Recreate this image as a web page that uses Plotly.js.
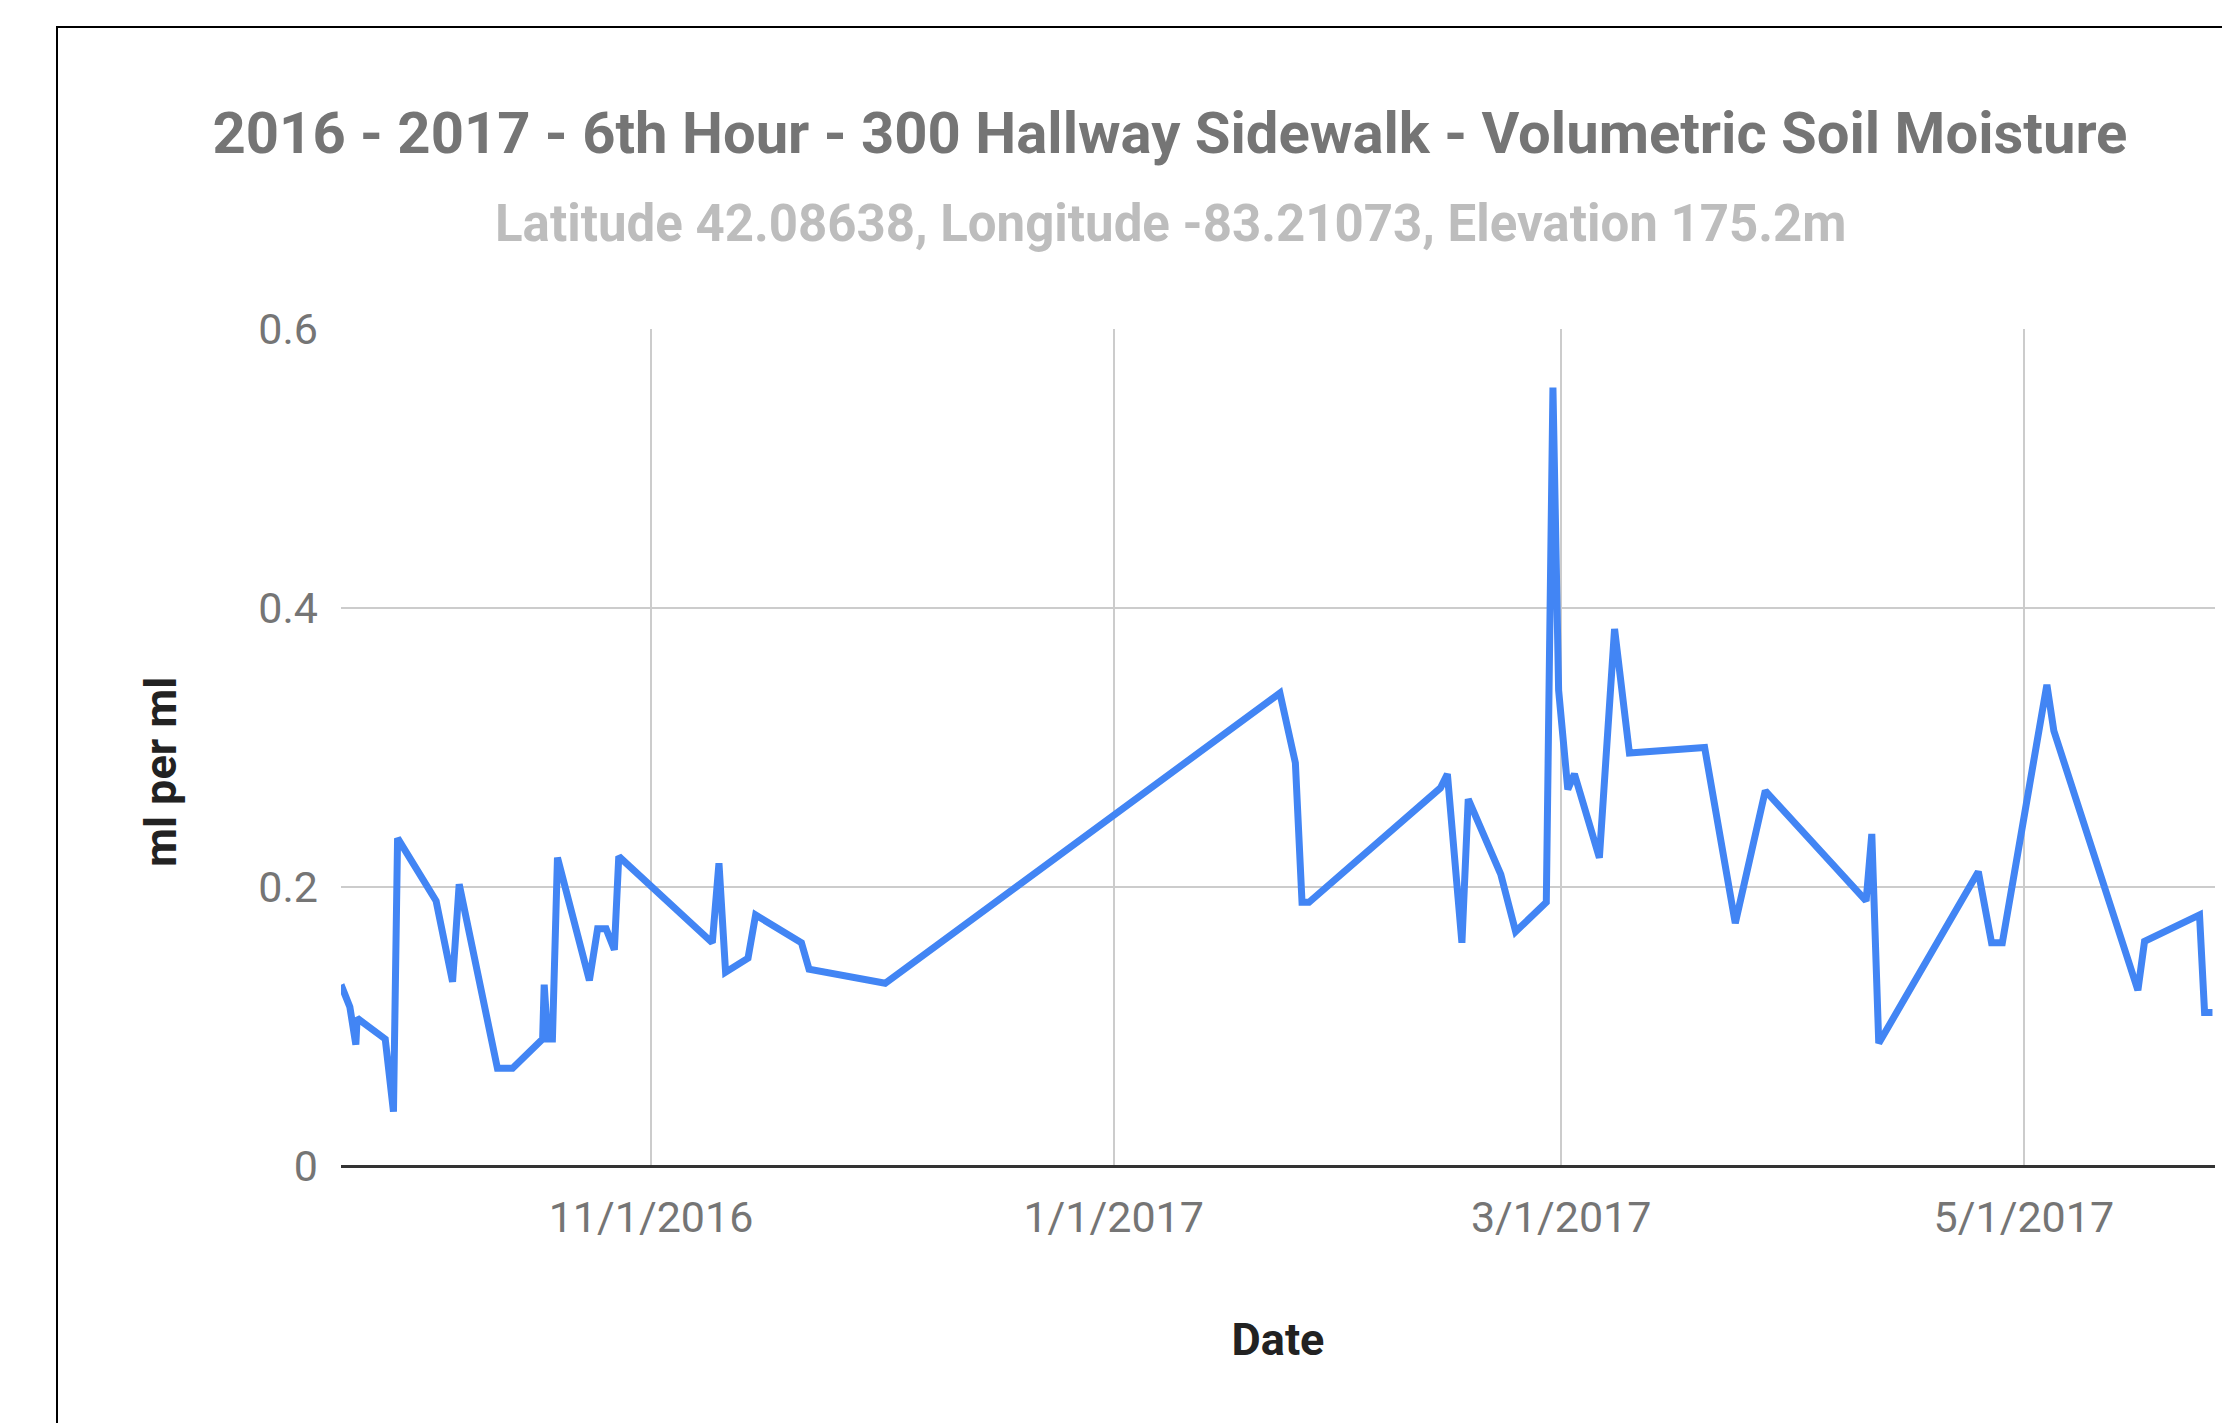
<!DOCTYPE html>
<html>
<head>
<meta charset="utf-8">
<script src="https://cdn.plot.ly/plotly-3.0.1.min.js"></script>
<style>
  html, body { margin: 0; padding: 0; background: #ffffff; }
  #wrap { position: relative; width: 2222px; height: 1423px; overflow: hidden; background: #ffffff; }
  #chart { position: absolute; left: 0; top: 0; width: 2222px; height: 1423px; }
  #frame { position: absolute; left: 56px; top: 26px; width: 2300px; height: 1500px;
           border-left: 2px solid #000; border-top: 2px solid #000; pointer-events: none; }
</style>
</head>
<body>
<div id="wrap">
  <div id="chart"></div>
  <div id="frame"></div>
</div>
<script>
// ---- data ----
const dates = [
  '2016-09-21 03:00', '2016-09-22 07:00', '2016-09-23 02:00', '2016-09-23 06:00',
  '2016-09-26 23:00', '2016-09-28 01:00', '2016-09-28 14:00', '2016-10-03 16:00',
  '2016-10-05 20:00', '2016-10-06 17:00', '2016-10-11 18:00', '2016-10-13 18:00',
  '2016-10-17 17:00', '2016-10-17 22:00', '2016-10-18 09:00', '2016-10-19 00:00',
  '2016-10-19 16:00', '2016-10-23 21:00', '2016-10-24 23:00', '2016-10-26 02:00',
  '2016-10-27 04:00', '2016-10-27 18:00', '2016-11-09 02:00', '2016-11-09 23:00',
  '2016-11-10 20:00', '2016-11-13 19:00', '2016-11-14 19:00', '2016-11-20 20:00',
  '2016-11-21 20:00', '2016-12-01 21:00', '2017-01-22 22:00', '2017-01-24 23:00',
  '2017-01-25 20:00', '2017-01-26 18:00', '2017-02-13 02:00', '2017-02-14 00:00',
  '2017-02-15 22:00', '2017-02-16 18:00', '2017-02-21 01:00', '2017-02-23 00:00',
  '2017-02-27 01:00', '2017-02-27 22:00', '2017-02-28 16:00', '2017-03-01 21:00',
  '2017-03-02 18:00', '2017-03-06 01:00', '2017-03-08 01:00', '2017-03-10 00:00',
  '2017-03-19 22:00', '2017-03-23 23:00', '2017-03-27 22:00', '2017-04-10 05:00',
  '2017-04-10 23:00', '2017-04-11 21:00', '2017-04-25 00:00', '2017-04-26 18:00',
  '2017-04-28 04:00', '2017-05-04 01:00', '2017-05-04 23:00', '2017-05-16 01:00',
  '2017-05-16 22:00', '2017-05-24 04:00', '2017-05-24 20:00', '2017-05-25 21:00'
];
const moisture = [
  0.130, 0.114, 0.087, 0.106,
  0.091, 0.039, 0.235, 0.190,
  0.132, 0.202, 0.070, 0.070,
  0.091, 0.130, 0.091, 0.091,
  0.221, 0.133, 0.170, 0.170,
  0.155, 0.222, 0.160, 0.217,
  0.139, 0.149, 0.180, 0.160,
  0.141, 0.131, 0.339, 0.289,
  0.189, 0.189, 0.271, 0.281,
  0.160, 0.263, 0.209, 0.168,
  0.189, 0.558, 0.341, 0.270,
  0.281, 0.221, 0.385, 0.296,
  0.300, 0.174, 0.269, 0.190,
  0.238, 0.088, 0.211, 0.160,
  0.160, 0.345, 0.312, 0.126,
  0.161, 0.180, 0.110, 0.110
];
const xTickVals = ['2016-11-01', '2017-01-01', '2017-03-01', '2017-05-01'];
const xTickText = ['11/1/2016', '1/1/2017', '3/1/2017', '5/1/2017'];
const yTickVals = [0, 0.2, 0.4, 0.6];
const yTickText = ['0', '0.2', '0.4', '0.6'];
const xRange = ['2016-09-21 03:00', '2017-05-26 05:00'];
const yRange = [0, 0.6];

const titleText = '2016 - 2017 - 6th Hour - 300 Hallway Sidewalk - Volumetric Soil Moisture';
const subtitleText = 'Latitude 42.08638, Longitude -83.21073, Elevation 175.2m';
const xTitle = 'Date';
const yTitle = 'ml per ml';

const FONT = 'Roboto, "Noto Sans", Arial, sans-serif';

const trace = {
  type: 'scatter',
  mode: 'lines',
  x: dates,
  y: moisture,
  line: { color: '#4285F4', width: 7, shape: 'linear' },
  hoverinfo: 'x+y',
  showlegend: false
};

const layout = {
  width: 2222,
  height: 1423,
  paper_bgcolor: 'rgba(0,0,0,0)',
  plot_bgcolor: '#ffffff',
  margin: { l: 341, r: 7, t: 329, b: 257, pad: 0 },
  font: { family: FONT, color: '#757575' },
  title: {
    text: titleText,
    font: { family: FONT, size: 58, color: '#757575', weight: 700 },
    xref: 'container', yref: 'container',
    x: 1170 / 2222, xanchor: 'center',
    y: 1 - 133 / 1423, yanchor: 'middle'
  },
  annotations: [{
    text: subtitleText,
    xref: 'paper', yref: 'paper',
    x: (1170 - 341) / 1874, xanchor: 'center',
    y: (1166 - 223) / 837, yanchor: 'middle',
    showarrow: false,
    font: { family: FONT, size: 51, color: '#BDBDBD', weight: 700 }
  }, {
    text: yTitle,
    xref: 'paper', yref: 'paper',
    x: (160 - 341) / 1874, xanchor: 'center',
    y: (1166 - 772) / 837, yanchor: 'middle',
    textangle: -90,
    showarrow: false,
    font: { family: FONT, size: 45, color: '#222222', weight: 700 }
  }],
  xaxis: {
    type: 'date',
    range: xRange,
    tickmode: 'array',
    tickvals: xTickVals,
    ticktext: xTickText,
    showgrid: true,
    gridcolor: '#CCCCCC',
    gridwidth: 2,
    zeroline: false,
    showline: false,
    ticks: '',
    ticklabelstandoff: 22,
    tickfont: { family: FONT, size: 43, color: '#757575' },
    title: { text: xTitle, standoff: 82, font: { family: FONT, size: 45, color: '#222222', weight: 700 } },
    automargin: false,
    fixedrange: true
  },
  yaxis: {
    range: yRange,
    tickmode: 'array',
    tickvals: yTickVals,
    ticktext: yTickText,
    showgrid: true,
    gridcolor: '#CCCCCC',
    gridwidth: 2,
    zeroline: true,
    zerolinecolor: '#333333',
    zerolinewidth: 3,
    showline: false,
    ticks: '',
    ticklabelstandoff: 22,
    tickfont: { family: FONT, size: 43, color: '#757575' },
    automargin: false,
    fixedrange: true
  }
};

Plotly.newPlot('chart', [trace], layout, { displayModeBar: false, staticPlot: true });
</script>
</body>
</html>
